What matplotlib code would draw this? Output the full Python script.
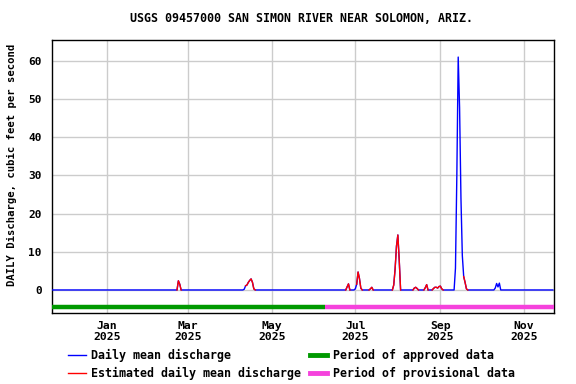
import numpy as np
import pandas as pd
import matplotlib
matplotlib.use("Agg")
import matplotlib.pyplot as plt
import matplotlib.dates as mdates
from matplotlib.lines import Line2D

# ---- data ----
start_date = "2024-11-22"
end_date = "2025-11-22"
approved_end = "2025-06-09"

event_dates = [
    "2025-02-22", "2025-02-23",
    "2025-04-11", "2025-04-12", "2025-04-13", "2025-04-14", "2025-04-15", "2025-04-16", "2025-04-17", "2025-04-18",
    "2025-06-25", "2025-06-26",
    "2025-07-01", "2025-07-02", "2025-07-03", "2025-07-04", "2025-07-05",
    "2025-07-12", "2025-07-13",
    "2025-07-29", "2025-07-30", "2025-07-31", "2025-08-01", "2025-08-02",
    "2025-08-13", "2025-08-14", "2025-08-15",
    "2025-08-21", "2025-08-22",
    "2025-08-27", "2025-08-28", "2025-08-29", "2025-08-30", "2025-08-31", "2025-09-01", "2025-09-02",
    "2025-09-12", "2025-09-13", "2025-09-14", "2025-09-15", "2025-09-16", "2025-09-17", "2025-09-18", "2025-09-19", "2025-09-20",
    "2025-10-11", "2025-10-12", "2025-10-13", "2025-10-14",
]
event_values = [
    2.4, 1.5,
    0.2, 1.1, 1.3, 2.0, 2.5, 2.9, 2.0, 0.3,
    0.8, 1.6,
    0.3, 1.5, 4.7, 3.0, 0.5,
    0.3, 0.7,
    1.3, 5.5, 11.5, 14.4, 7.8,
    0.5, 0.7, 0.4,
    0.6, 1.4,
    0.4, 0.7, 0.7, 0.5, 0.9, 1.0, 0.3,
    5.7, 30.0, 61.0, 47.7, 24.0, 9.0, 3.5, 2.0, 0.3,
    0.5, 1.7, 0.8, 1.8,
]
event_estimated = [
    True, True,
    False, False, True, False, True, True, True, True,
    True, True,
    False, False, True, True, True,
    True, True,
    True, True, True, True, True,
    True, True, True,
    True, True,
    True, True, True, True, False, True, True,
    False, False, False, False, False, False, False, True, True,
    False, False, False, False,
]

yticks = [0, 10, 20, 30, 40, 50, 60]
xtick_dates = ["2025-01-01", "2025-03-01", "2025-05-01", "2025-07-01", "2025-09-01", "2025-11-01"]
xtick_labels = ["Jan\n2025", "Mar\n2025", "May\n2025", "Jul\n2025", "Sep\n2025", "Nov\n2025"]

# ---- build daily series ----
days = pd.date_range(start_date, end_date, freq="D")
q = pd.Series(0.0, index=days)
est = pd.Series(False, index=days)
for d, v, e in zip(event_dates, event_values, event_estimated):
    q[pd.Timestamp(d)] = v
    est[pd.Timestamp(d)] = e

est_arr = est.values
near_est = est_arr.copy()
near_est[1:] |= est_arr[:-1]
near_est[:-1] |= est_arr[1:]
red_vals = np.where(near_est, q.values, np.nan)

# ---- figure ----
plt.rcParams['font.family'] = ['DejaVu Sans Mono', 'DejaVu Sans']
plt.rcParams['font.weight'] = 'bold'
fig = plt.figure(figsize=(5.76, 3.84), dpi=100)
ax = fig.add_axes([51.5/576, 1-312.5/384, (554-51.5)/576, (312.5-39.5)/384])

ax.plot(days, q.values, color='#0000FF', lw=1.0, zorder=3)
ax.plot(days, red_vals, color='#FF0000', lw=1.0, zorder=4)

bar_y = -4.5
ax.plot([pd.Timestamp(start_date), pd.Timestamp(approved_end)], [bar_y, bar_y],
        color='#009900', lw=3.2, solid_capstyle='butt', zorder=3)
ax.plot([pd.Timestamp(approved_end), pd.Timestamp(end_date) + pd.Timedelta(days=1)], [bar_y, bar_y],
        color='#F542DC', lw=3.2, solid_capstyle='butt', zorder=3)

ax.set_xlim(pd.Timestamp(start_date) - pd.Timedelta(hours=12), pd.Timestamp(end_date) + pd.Timedelta(hours=20))
ax.set_ylim(-5.9, 65.6)
ax.set_yticks(yticks)
ax.set_yticklabels([str(v) for v in yticks], fontsize=8, fontweight='bold')
ax.set_xticks([pd.Timestamp(d) for d in xtick_dates])
ax.set_xticklabels(xtick_labels, fontsize=8.2, fontweight='bold', linespacing=1.15)
ax.tick_params(axis='both', length=0)
ax.tick_params(axis='y', pad=7)
ax.tick_params(axis='x', pad=6)
ax.grid(True, color='#CCCCCC', lw=1.0, zorder=0)
ax.set_axisbelow(True)
for s in ax.spines.values():
    s.set_color('black')
    s.set_linewidth(1.0)

fig.text(302/576, 1-19/384, "USGS 09457000 SAN SIMON RIVER NEAR SOLOMON, ARIZ.",
         ha='center', va='center', fontsize=8.4, fontweight='bold')
fig.text(12/576, 1-165/384, "DAILY Discharge, cubic feet per second",
         rotation=90, ha='center', va='center', fontsize=7.6, fontweight='bold')

handles = [
    Line2D([], [], color='#0000FF', lw=1.0),
    Line2D([], [], color='#FF0000', lw=1.0),
    Line2D([], [], color='#009900', lw=3.5),
    Line2D([], [], color='#F542DC', lw=3.5),
]
labels = ["Daily mean discharge", "Estimated daily mean discharge",
          "Period of approved data", "Period of provisional data"]
fig.legend(handles, labels, loc='upper left', bbox_to_anchor=(68/576, 1-349/384),
           ncol=2, frameon=False, fontsize=8.4, handlelength=1.5, handletextpad=0.5,
           columnspacing=0.7, labelspacing=0.4, borderpad=0, borderaxespad=0,
           prop={'weight': 'bold', 'size': 8.4})

fig.savefig("out.png", dpi=100)
